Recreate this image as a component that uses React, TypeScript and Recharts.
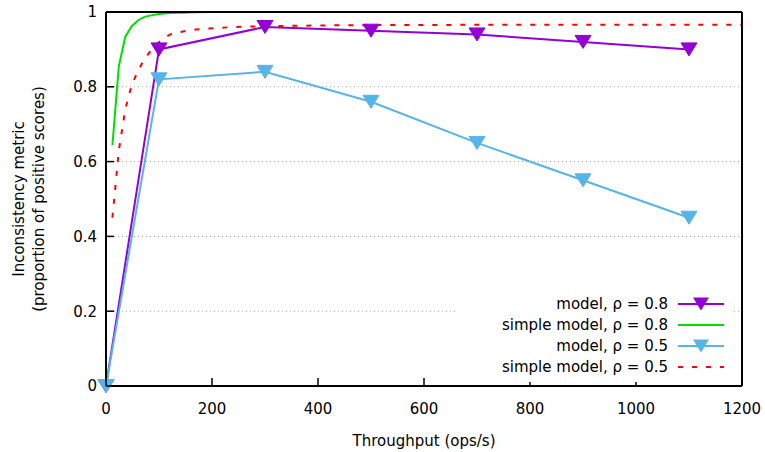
import { LineChart, Line, XAxis, YAxis, CartesianGrid, Legend } from "recharts";

const modelX = [0, 100, 300, 500, 700, 900, 1100];
const modelRho08 = [0, 0.9, 0.96, 0.95, 0.94, 0.92, 0.9];
const modelRho05 = [0, 0.82, 0.84, 0.76, 0.65, 0.55, 0.45];

const simpleX = [
  12.1, 24.2, 36.4, 48.5, 60.6, 72.7, 84.8, 97, 109.1, 121.2, 145.5, 169.7,
  193.9, 242.4, 303, 400, 500, 600, 700, 800, 900, 1000, 1100, 1200,
];
const simpleRho08 = [
  0.644, 0.855, 0.934, 0.962, 0.978, 0.987, 0.991, 0.994, 0.996, 0.997, 0.998,
  0.999, 1, 1, 1, 1, 1, 1, 1, 1, 1, 1, 1, 1,
];
const simpleRho05 = [
  0.45, 0.63, 0.74, 0.805, 0.843, 0.875, 0.897, 0.916, 0.93, 0.94, 0.948,
  0.953, 0.956, 0.96, 0.962, 0.964, 0.965, 0.965, 0.966, 0.966, 0.966, 0.966,
  0.966, 0.966,
];

const xTicks = [0, 200, 400, 600, 800, 1000, 1200];
const yTicks = [0, 0.2, 0.4, 0.6, 0.8, 1];
const xTitle = "Throughput (ops/s)";
const yTitle = ["Inconsistency metric", "(proportion of positive scores)"];

const SERIES = [
  { name: "model, ρ = 0.8", color: "#9400d3", dash: undefined, marker: true },
  { name: "simple model, ρ = 0.8", color: "#00e000", dash: undefined, marker: false },
  { name: "model, ρ = 0.5", color: "#56b4e9", dash: undefined, marker: true },
  { name: "simple model, ρ = 0.5", color: "#ff0000", dash: "5 9", marker: false },
];

const FONT = "'DejaVu Sans', Verdana, sans-serif";
const FS = 15;

const toPoints = (xs: number[], ys: number[]) => xs.map((x, i) => ({ x, y: ys[i] }));
const model08Data = toPoints(modelX, modelRho08);
const model05Data = toPoints(modelX, modelRho05);
const simple08Data = toPoints(simpleX, simpleRho08);
const simple05Data = toPoints(simpleX, simpleRho05);

const triPath = (cx: number, cy: number) =>
  `M${cx - 8},${cy - 6.5}L${cx + 8},${cy - 6.5}L${cx},${cy + 6.5}Z`;

const triangleDot = (color: string) => (props: any) => {
  const { cx, cy, index } = props;
  return <path key={`t-${index}`} d={triPath(cx, cy)} fill={color} stroke={color} strokeWidth={1} />;
};

const BottomTick = ({ x, y, payload }: any) => (
  <g>
    <line x1={x} y1={y} x2={x} y2={y - 8} stroke="#000" strokeWidth={1.5} />
    <text x={x} y={y + 28} textAnchor="middle" fontFamily={FONT} fontSize={FS} fill="#000">
      {payload.value}
    </text>
  </g>
);

const LeftTick = ({ x, y, payload }: any) => (
  <g>
    <line x1={x} y1={y} x2={x + 8} y2={y} stroke="#000" strokeWidth={1.5} />
    <text x={x - 9} y={y} dy="0.36em" textAnchor="end" fontFamily={FONT} fontSize={FS} fill="#000">
      {payload.value}
    </text>
  </g>
);

const TopTick = ({ x, y }: any) => (
  <line x1={x} y1={y} x2={x} y2={y + 8} stroke="#000" strokeWidth={1.5} />
);

const RightTick = ({ x, y }: any) => (
  <line x1={x} y1={y} x2={x - 8} y2={y} stroke="#000" strokeWidth={1.5} />
);

const YTitle = (props: any) => {
  const vb = props.viewBox;
  const cy = vb.y + vb.height / 2;
  return (
    <g fontFamily={FONT} fontSize={FS} fill="#000">
      {yTitle.map((t, i) => {
        const x = vb.x + 24 + i * 20;
        return (
          <text key={t} x={x} y={cy} textAnchor="middle" transform={`rotate(-90, ${x}, ${cy})`}>
            {t}
          </text>
        );
      })}
    </g>
  );
};

const XTitle = (props: any) => {
  const vb = props.viewBox;
  return (
    <text x={vb.x + vb.width / 2} y={vb.y + 60} textAnchor="middle" fontFamily={FONT} fontSize={FS} fill="#000">
      {xTitle}
    </text>
  );
};

const KeyBox = () => (
  <svg width={278} height={92} style={{ display: "block", background: "#fff" }}>
    {SERIES.map((s, i) => {
      const cy = 14 + i * 21;
      return (
        <g key={s.name}>
          <text x={213} y={cy} dy="0.36em" textAnchor="end" fontFamily={FONT} fontSize={FS} fill="#000">
            {s.name}
          </text>
          <line x1={223} y1={cy} x2={269} y2={cy} stroke={s.color} strokeWidth={2} strokeDasharray={s.dash} />
          {s.marker && <path d={triPath(246, cy)} fill={s.color} />}
        </g>
      );
    })}
  </svg>
);

export default function App() {
  return (
    <div style={{ position: "absolute", left: 0, top: 0, background: "#fff" }}>
      <LineChart width={765} height={452} margin={{ top: 11, right: 22, left: 0, bottom: 0 }}>
        <CartesianGrid horizontal vertical={false} stroke="#a0a0a0" strokeDasharray="1 3" />
        <XAxis
          dataKey="x"
          type="number"
          domain={[0, 1200]}
          ticks={xTicks}
          interval={0}
          height={66}
          tickSize={0}
          tickMargin={0}
          tickLine={false}
          axisLine={{ stroke: "#000", strokeWidth: 2 }}
          tick={<BottomTick />}
          label={<XTitle />}
        />
        <XAxis
          xAxisId="top"
          orientation="top"
          dataKey="x"
          type="number"
          domain={[0, 1200]}
          ticks={xTicks}
          interval={0}
          height={1}
          tickSize={0}
          tickMargin={0}
          tickLine={false}
          axisLine={{ stroke: "#000", strokeWidth: 2 }}
          tick={<TopTick />}
        />
        <YAxis
          type="number"
          domain={[0, 1]}
          ticks={yTicks}
          interval={0}
          width={106}
          tickSize={0}
          tickMargin={0}
          tickLine={false}
          axisLine={{ stroke: "#000", strokeWidth: 2 }}
          tick={<LeftTick />}
          label={<YTitle />}
        />
        <YAxis
          yAxisId="right"
          orientation="right"
          type="number"
          domain={[0, 1]}
          ticks={yTicks}
          interval={0}
          width={1}
          tickSize={0}
          tickMargin={0}
          tickLine={false}
          axisLine={{ stroke: "#000", strokeWidth: 2 }}
          tick={<RightTick />}
        />
        <Line
          data={model08Data}
          dataKey="y"
          name={SERIES[0].name}
          stroke={SERIES[0].color}
          strokeWidth={2}
          dot={triangleDot(SERIES[0].color)}
          isAnimationActive={false}
        />
        <Line
          data={simple08Data}
          dataKey="y"
          name={SERIES[1].name}
          stroke={SERIES[1].color}
          strokeWidth={2}
          dot={false}
          isAnimationActive={false}
        />
        <Line
          data={model05Data}
          dataKey="y"
          name={SERIES[2].name}
          stroke={SERIES[2].color}
          strokeWidth={2}
          dot={triangleDot(SERIES[2].color)}
          isAnimationActive={false}
        />
        <Line
          data={simple05Data}
          dataKey="y"
          name={SERIES[3].name}
          stroke={SERIES[3].color}
          strokeWidth={2}
          strokeDasharray={SERIES[3].dash}
          dot={false}
          isAnimationActive={false}
        />
        <Legend
          layout="vertical"
          align="center"
          verticalAlign="middle"
          wrapperStyle={{ left: 455, top: 290, width: 278, height: 92 }}
          content={<KeyBox />}
        />
      </LineChart>
    </div>
  );
}
